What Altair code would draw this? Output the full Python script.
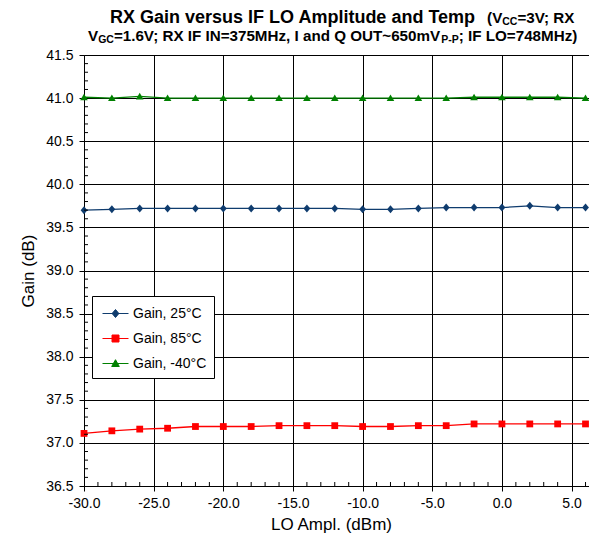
import altair as alt
import pandas as pd

# ---------------- data ----------------
lo_dbm = [-30, -28, -26, -24, -22, -20, -18, -16, -14, -12, -10, -8, -6, -4, -2, 0, 2, 4, 6]
gain_25c = [39.70, 39.71, 39.72, 39.72, 39.72, 39.72, 39.72, 39.72, 39.72, 39.72,
            39.71, 39.71, 39.72, 39.73, 39.73, 39.73, 39.75, 39.73, 39.73]
gain_85c = [37.11, 37.14, 37.16, 37.17, 37.19, 37.19, 37.19, 37.20, 37.20, 37.20,
            37.19, 37.19, 37.20, 37.20, 37.22, 37.22, 37.22, 37.22, 37.22]
gain_m40c = [41.01, 41.00, 41.02, 41.00, 41.00, 41.00, 41.00, 41.00, 41.00, 41.00,
             41.00, 41.00, 41.00, 41.00, 41.01, 41.01, 41.01, 41.01, 41.00]
series_names = ["Gain, 25°C", "Gain, 85°C", "Gain, -40°C"]
x_ticks = [-30, -25, -20, -15, -10, -5, 0, 5]
y_ticks = [36.5, 37.0, 37.5, 38.0, 38.5, 39.0, 39.5, 40.0, 40.5, 41.0, 41.5]
x_minor = [v for v in range(-29, 7) if v % 5 != 0]
y_minor = [round(36.5 + 0.1 * i, 1) for i in range(51) if i % 5 != 0]

# ---------------- styles ----------------
series_colors = ["#0f3c6e", "#ff0000", "#008000"]
marker_paths = [
    "M0,-1L0.85,0L0,1L-0.85,0Z",
    "M-0.85,-0.85H0.85V0.85H-0.85Z",
    "M0,-0.9L0.95,0.75H-0.95Z",
]
legend_paths = [
    "M-1.3,0H1.3M0,-0.4L0.34,0L0,0.4L-0.34,0Z",
    "M-1.3,0H1.3M-0.35,-0.35H0.35V0.35H-0.35Z",
    "M-1.3,0H1.3M0,-0.38L0.38,0.3H-0.38Z",
]
FONT = "Liberation Sans"
W, H = 505, 431
LABEL_EXPR = "replace(format(datum.value, '.1f'), '\u2212', '-')"

rows = []
for name, vals in zip(series_names, [gain_25c, gain_85c, gain_m40c]):
    for x, g in zip(lo_dbm, vals):
        rows.append({"lo": x, "gain": g, "series": name})
df = pd.DataFrame(rows)

x_scale = alt.Scale(domain=[-30, 6.25], nice=False, zero=False)
y_scale = alt.Scale(domain=[36.5, 41.5], nice=False, zero=False)

x_axis = alt.Axis(values=x_ticks, labelExpr=LABEL_EXPR, title="LO Ampl. (dBm)", grid=True,
                  tickSize=5, labelPadding=5, labelFlush=False,
                  titleBaseline="alphabetic", titleX=247, titleY=43)
y_axis = alt.Axis(values=y_ticks, labelExpr=LABEL_EXPR, title="Gain (dB)", grid=True,
                  tickSize=5, labelPadding=6, labelFlush=False,
                  titleBaseline="alphabetic", titleX=-51, titleY=215.5, titleAngle=270)

x_enc = alt.X("lo:Q", scale=x_scale, axis=x_axis)
y_enc = alt.Y("gain:Q", scale=y_scale, axis=y_axis)
color_enc = alt.Color("series:N", scale=alt.Scale(domain=series_names, range=series_colors), legend=None)

base = alt.Chart(df)
lines = base.mark_line(strokeWidth=1.3).encode(x=x_enc, y=y_enc, color=color_enc)
points = base.mark_point(filled=True, size=64, opacity=1).encode(
    x=x_enc, y=y_enc, color=color_enc,
    shape=alt.Shape("series:N", scale=alt.Scale(domain=series_names, range=marker_paths), legend=None),
)

leg = alt.Legend(title=None, orient="none", legendX=8, legendY=241, direction="vertical",
                 fillColor="white", strokeColor="black", padding=7, symbolSize=400,
                 symbolOffset=6, labelOffset=7, rowPadding=7, labelFont=FONT, labelFontSize=14,
                 labelColor="black", symbolStrokeWidth=1, symbolOpacity=1, labelLimit=300)
legend_layer = base.mark_point(opacity=0, strokeWidth=1).encode(
    x=x_enc, y=y_enc,
    fill=alt.Fill("series:N", scale=alt.Scale(domain=series_names, range=series_colors), legend=leg),
    stroke=alt.Stroke("series:N", scale=alt.Scale(domain=series_names, range=series_colors), legend=leg),
    shape=alt.Shape("series:N", scale=alt.Scale(domain=series_names, range=legend_paths), legend=leg),
)

# minor ticks (inside the plot, along the axes)
minor_x = alt.Chart(pd.DataFrame({"lo": x_minor})).mark_rule(color="black", strokeWidth=1).encode(
    x=x_enc, y=alt.value(H - 4), y2=alt.value(H))
minor_y = alt.Chart(pd.DataFrame({"gain": y_minor})).mark_rule(color="black", strokeWidth=1).encode(
    y=y_enc, x=alt.value(0), x2=alt.value(4))

# ---------------- title (rich text with subscripts) ----------------
AB = {' ': 278, '(': 333, ')': 333, ',': 278, '-': 333, '.': 278, ';': 333, '=': 584, '~': 584,
      'A': 722, 'C': 722, 'F': 611, 'G': 778, 'H': 722, 'I': 278, 'L': 611, 'M': 833, 'N': 722,
      'O': 778, 'P': 667, 'Q': 778, 'R': 722, 'T': 611, 'U': 722, 'V': 667, 'X': 667,
      'a': 556, 'd': 611, 'e': 556, 'i': 278, 'l': 278, 'm': 889, 'n': 611, 'p': 611, 'r': 389,
      's': 556, 't': 333, 'u': 611, 'v': 556, 'z': 500}
for d in "0123456789":
    AB[d] = 556


def tw(s, size):
    return sum(AB.get(c, 556) for c in s) * size / 1000.0


title_lines = [
    (26, -32, [("RX Gain versus IF LO Amplitude and Temp", 18, 0, 10),
               ("(V", 15.2, 0, 0), ("CC", 10.5, 1.5, 0), ("=3V; RX", 15.2, 0, 0)]),
    (4, -14, [("V", 15.2, 0, 0), ("GC", 10.5, 1.5, 0),
              ("=1.6V; RX IF IN=375MHz, I and Q OUT~650mV", 15.2, 0, 0),
              ("P-P", 10.5, 1.5, 0), ("; IF LO=748MHz)", 15.2, 0, 0)]),
]
one = pd.DataFrame({"t": [0]})
title_layers = []
for x0, y0, pieces in title_lines:
    cx = x0
    for txt, size, dy, gap in pieces:
        title_layers.append(
            alt.Chart(one).mark_text(text=txt, font=FONT, fontSize=size, fontWeight="bold",
                                     align="left", baseline="alphabetic", color="black")
            .encode(x=alt.value(cx), y=alt.value(y0 + dy))
        )
        cx += tw(txt, size) + gap

chart = alt.layer(lines, points, legend_layer, minor_x, minor_y, *title_layers).resolve_scale(
    fill="independent", stroke="independent", shape="independent"
).resolve_legend(
    fill="independent", stroke="independent", shape="independent"
).properties(
    width=W, height=H,
    autosize=alt.AutoSizeParams(type="none"),
    padding={"left": 84, "top": 55, "right": 0, "bottom": 58},
).configure_view(stroke=None).configure_axis(
    labelFont=FONT, titleFont=FONT, labelFontSize=14, titleFontSize=17, titleFontWeight="normal",
    labelColor="black", titleColor="black", domainColor="black", tickColor="black",
    gridColor="black", gridOpacity=1, domainWidth=1, tickWidth=1, gridWidth=1,
)

chart.save("out.html", embed_options={"renderer": "svg", "actions": False})
